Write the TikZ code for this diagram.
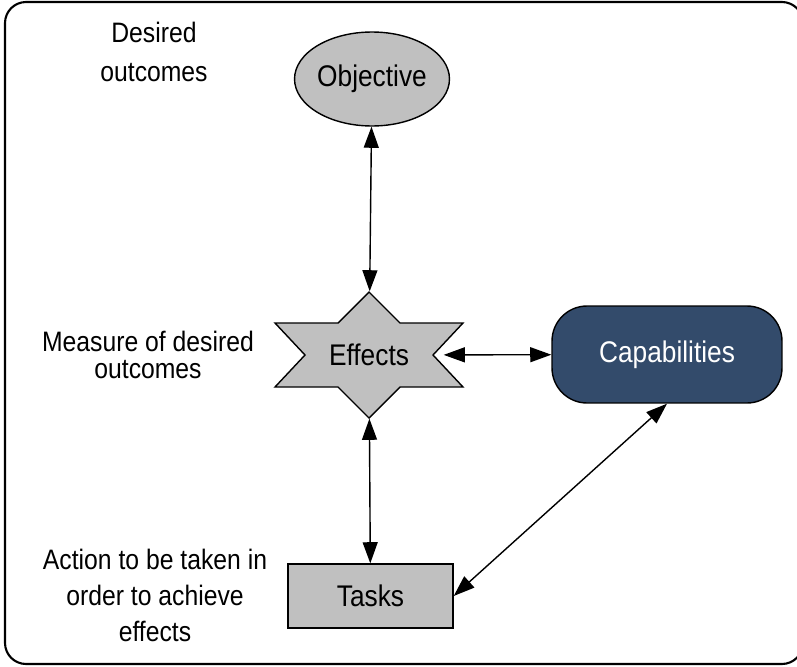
\documentclass[tikz,border=0pt]{standalone}
\usepackage{fontspec}
\setmainfont{Liberation Sans}
\newfontfamily\narrowsans[FakeStretch=0.88]{Liberation Sans}
\usepackage{tikz}
\usetikzlibrary{arrows.meta}
\usetikzlibrary{shapes}
\definecolor{boxgray}{HTML}{C0C0C0}
\definecolor{capblue}{HTML}{334B6B}

\begin{document}
\begin{tikzpicture}[x=0.02cm,y=-0.02cm]
\useasboundingbox (0,0) rectangle (797,666);
\draw [line width=1.2pt, rounded corners=12] (5,2) rectangle (803,664);

%\tikzstyle{place}=[ellipse,draw,fill=boxgray]
\tikzset{txt/.style={font=\narrowsans\fontsize{17}{20}\selectfont, inner sep=0pt, line width=0.8pt}}
\tikzset{lbl/.style={font=\narrowsans\fontsize{16}{#1}\selectfont, align=center, inner sep=0pt}}

% star behind the effects node
\filldraw [fill=boxgray, line width=0.8pt, shift={(369,355)}]
    (0,-63) -- (31,-32) -- (94,-32) -- (64,0) -- (94,32) -- (31,32) -- (0,63)
    -- (-31,32) -- (-94,32) -- (-64,0) -- (-94,-32) -- (-31,-32) -- cycle;

\begin{scope}
    \node [txt, ellipse, draw, fill=boxgray, minimum width=2.92cm, minimum height=1.88cm] (a) at (372,79) {Objective};
    \node [txt, minimum width=2.96cm, minimum height=2.52cm] (b) at (369,355) {Effects};
    \node [txt, draw, fill=capblue, text=white, rounded corners=0.7cm, minimum width=4.6cm, minimum height=1.94cm] (c) at (667,354.5) {Capabilities};
    \node [txt, draw, fill=boxgray, minimum width=3.3cm, minimum height=1.28cm] (d) at (370.5,596) {Tasks};
    \node [lbl=22pt] (e) at (154,52) {Desired\\outcomes};
    \node [lbl=15.5pt] (f) at (148,355) {Measure of desired\\outcomes};
    \node [lbl=20.5pt] (g) at (155,595) {Action to be taken in\\order to achieve\\effects};
\end{scope}

\begin{scope}[>={Triangle[length=12pt,width=8.5pt]}, every edge/.style={draw=black, line width=0.8pt}]
    \path [<->] (a) edge (b);
    \path [<->] (b) edge (c);
    \path [<->] (b) edge (d);
    \path [<->] (c.south) edge (d.east);
\end{scope}
\end{tikzpicture}
\end{document}
